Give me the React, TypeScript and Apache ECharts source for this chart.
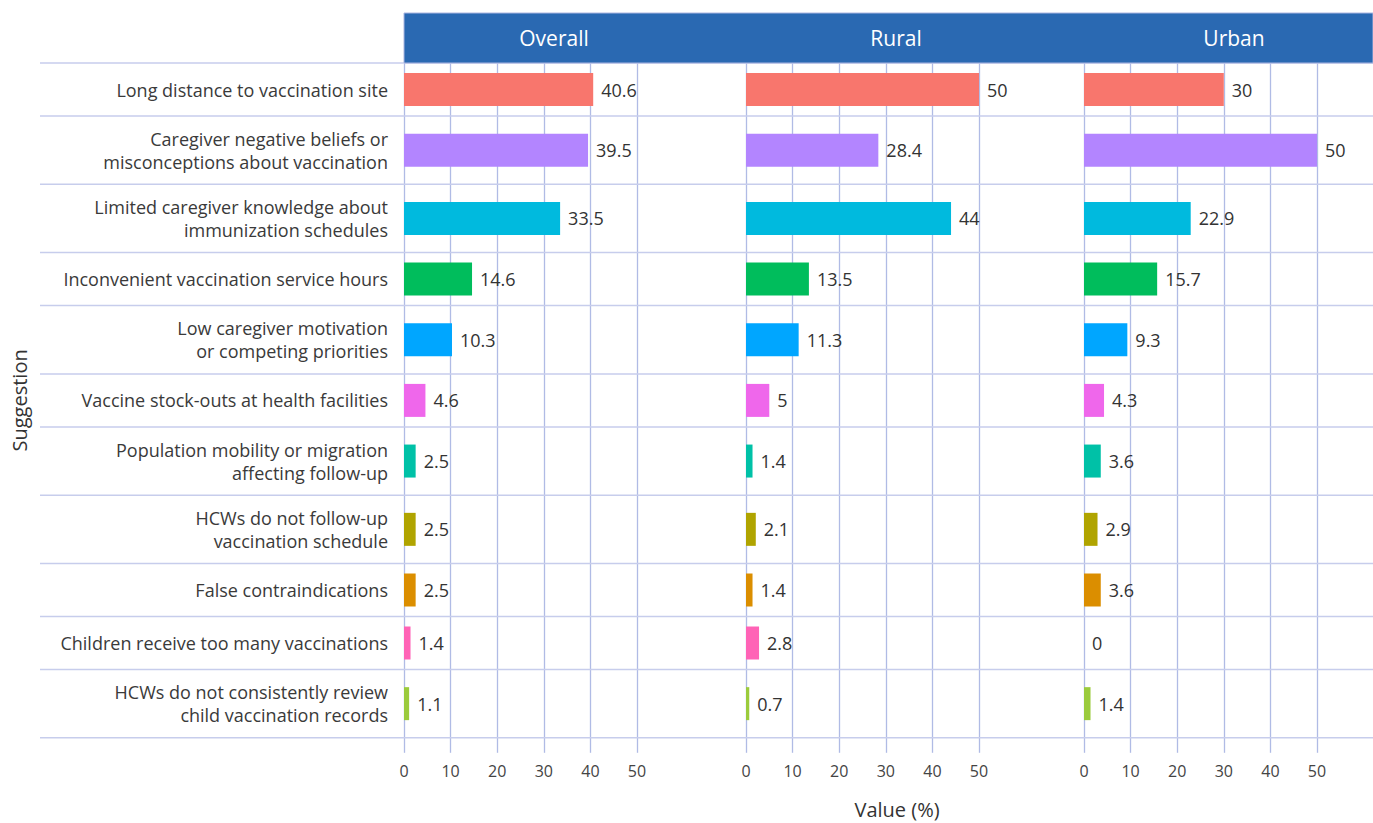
import React, { useEffect, useRef } from "react";
import * as echarts from "echarts";

const categories: string[] = [
  "Long distance to vaccination site",
  "Caregiver negative beliefs or\nmisconceptions about vaccination",
  "Limited caregiver knowledge about\nimmunization schedules",
  "Inconvenient vaccination service hours",
  "Low caregiver motivation\nor competing priorities",
  "Vaccine stock-outs at health facilities",
  "Population mobility or migration\naffecting follow-up",
  "HCWs do not follow-up\nvaccination schedule",
  "False contraindications",
  "Children receive too many vaccinations",
  "HCWs do not consistently review\nchild vaccination records",
];

const panels: string[] = ["Overall", "Rural", "Urban"];

const overallValues: number[] = [40.6, 39.5, 33.5, 14.6, 10.3, 4.6, 2.5, 2.5, 2.5, 1.4, 1.1];
const ruralValues: number[] = [50, 28.4, 44, 13.5, 11.3, 5, 1.4, 2.1, 1.4, 2.8, 0.7];
const urbanValues: number[] = [30, 50, 22.9, 15.7, 9.3, 4.3, 3.6, 2.9, 3.6, 0, 1.4];

const barColors: string[] = [
  "#F8766D", "#B385FF", "#00BADE", "#00BD5C", "#00A6FF", "#EF67EB",
  "#00C1A7", "#B0A400", "#DB8E00", "#FF63B6", "#9BCB3C",
];

const xTicks: number[] = [0, 10, 20, 30, 40, 50];

const FONT = "'Open Sans', 'Noto Sans', sans-serif";

export default function App() {
  const ref = useRef<HTMLDivElement>(null);
  useEffect(() => {
    if (!ref.current) return;
    const chart = echarts.init(ref.current, undefined, { renderer: "svg" });
    const panelValues = [overallValues, ruralValues, urbanValues];
    const panelLeft = [404, 746, 1084];
    const panelWidth = 233;
    const top0 = 63;
    const rowHeights = categories.map((c) => 37.7 + 15.3 * c.split("\n").length);
    const rowTops: number[] = [];
    let acc = top0;
    rowHeights.forEach((h) => {
      rowTops.push(acc);
      acc += h;
    });
    const bottomY = acc;
    const gridColor = "#b0bbe5";
    const hLineColor = "#c7cdec";

    const grids: any[] = [];
    const xAxes: any[] = [];
    const yAxes: any[] = [];
    const series: any[] = [];
    let gi = 0;
    for (let p = 0; p < 3; p++) {
      for (let r = 0; r < categories.length; r++) {
        const isLast = r === categories.length - 1;
        grids.push({
          left: panelLeft[p],
          top: rowTops[r],
          width: panelWidth,
          height: rowHeights[r],
          containLabel: false,
        });
        xAxes.push({
          type: "value",
          gridIndex: gi,
          min: 0,
          max: 50,
          interval: 10,
          axisLine: { show: false },
          axisTick: {
            show: isLast,
            length: 15,
            lineStyle: { color: gridColor, width: 1.3 },
          },
          axisLabel: {
            show: isLast,
            margin: 25,
            color: "#444",
            fontSize: 16,
            fontFamily: FONT,
            customValues: xTicks,
          },
          splitLine: { show: true, lineStyle: { color: gridColor, width: 1.3 } },
        });
        yAxes.push({
          type: "category",
          gridIndex: gi,
          data: [categories[r]],
          axisLine: { show: false },
          axisTick: { show: false },
          splitLine: { show: false },
          axisLabel: {
            show: p === 0,
            margin: 16,
            align: "right",
            color: "#3a3a3a",
            fontSize: 18,
            lineHeight: 23,
            fontFamily: FONT,
          },
        });
        series.push({
          type: "bar",
          xAxisIndex: gi,
          yAxisIndex: gi,
          data: [panelValues[p][r]],
          barWidth: 33,
          itemStyle: { color: barColors[r] },
          label: {
            show: true,
            position: "right",
            distance: 8,
            color: "#333",
            fontSize: 18,
            fontFamily: FONT,
          },
        });
        gi++;
      }
    }

    const graphics: any[] = [];
    graphics.push({
      type: "rect",
      shape: { x: 404, y: 13, width: 1373 - 404, height: 50 },
      style: { fill: "#2A69B2", stroke: "#aab6e0", lineWidth: 1 },
      z: 10,
    });
    panels.forEach((name, p) => {
      graphics.push({
        type: "text",
        x: panelLeft[p] + 150,
        y: 38,
        style: {
          text: name,
          fill: "#ffffff",
          fontSize: 21,
          fontFamily: FONT,
          align: "center",
          verticalAlign: "middle",
        },
        z: 11,
      });
    });
    const boundaries = [...rowTops, bottomY];
    boundaries.forEach((y) => {
      graphics.push({
        type: "line",
        shape: { x1: 40, y1: y, x2: 1373, y2: y },
        style: { stroke: hLineColor, lineWidth: 1.5 },
        z: 5,
      });
    });
    graphics.push({
      type: "text",
      x: 897,
      y: 809,
      style: {
        text: "Value (%)",
        fill: "#333",
        fontSize: 20,
        fontFamily: FONT,
        align: "center",
        verticalAlign: "middle",
      },
    });
    graphics.push({
      type: "text",
      x: 19,
      y: (top0 + bottomY) / 2,
      rotation: Math.PI / 2,
      style: {
        text: "Suggestion",
        fill: "#333",
        fontSize: 20,
        fontFamily: FONT,
        align: "center",
        verticalAlign: "middle",
      },
    });

    chart.setOption({
      animation: false,
      grid: grids,
      xAxis: xAxes,
      yAxis: yAxes,
      series,
      graphic: graphics,
    });
    return () => chart.dispose();
  }, []);
  return <div ref={ref} style={{ width: 1373, height: 823, position: "absolute", left: 0, top: 0 }} />;
}
